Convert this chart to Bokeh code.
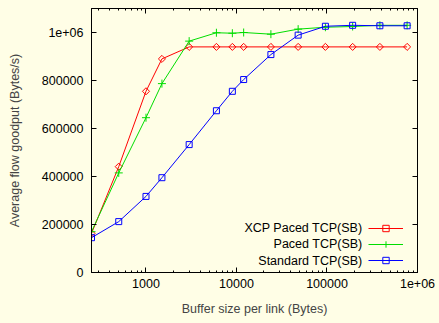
import numpy as np
from bokeh.plotting import figure
from bokeh.models import (FixedTicker, LinearAxis, LogAxis, Legend, LegendItem,
                          Label)
from bokeh.embed import file_html
from bokeh.resources import INLINE

# ---- data ----
buffer_sizes = [250, 500, 1000, 1500, 3000, 6000, 9000, 12000, 24000, 48000,
                96000, 192000, 384000, 768000]
xcp_paced = [163000, 441000, 755000, 890000, 940000, 940000, 940000, 940000,
             940000, 940000, 940000, 940000, 940000, 940000]
paced = [170000, 415000, 645000, 787000, 964000, 999000, 997000, 1000000,
         993000, 1014000, 1022000, 1025000, 1030000, 1030000]
standard = [145000, 212000, 317000, 395000, 533000, 674000, 755000, 804000,
            908000, 989000, 1026000, 1030000, 1028000, 1028000]
series_names = ["XCP Paced TCP(SB)", "Paced TCP(SB)", "Standard TCP(SB)"]

x_ticks = [1000, 10000, 100000, 1000000]
x_tick_labels = ["1000", "10000", "100000", "1e+06"]
y_ticks = [0, 200000, 400000, 600000, 800000, 1000000]
y_tick_labels = ["0", "200000", "400000", "600000", "800000", "1e+06"]

BG = "#fffee6"
FONT = "Liberation Sans"
FS = "12.5px"

x_minor = [m * 10 ** e for e in range(2, 6) for m in range(2, 10)]

p = figure(x_axis_type="log", x_range=(250, 1e6), y_range=(0, 1.1e6),
           width=439, height=323, output_backend="svg", toolbar_location=None,
           min_border_left=91, min_border_right=22, min_border_top=8,
           min_border_bottom=51, background_fill_color=BG, border_fill_color=BG)
p.grid.visible = False
p.outline_line_color = "black"
p.outline_line_width = 1


def style_axis(ax, labels=True):
    ax.axis_line_color = "black"
    ax.major_tick_in = 5
    ax.major_tick_out = 0
    ax.minor_tick_in = 2
    ax.minor_tick_out = 0
    ax.major_tick_line_color = "black"
    ax.minor_tick_line_color = "black"
    ax.major_label_text_font = FONT
    ax.major_label_text_font_size = FS
    ax.major_label_text_color = "black"
    ax.axis_label_text_font = FONT
    ax.axis_label_text_font_size = FS
    ax.axis_label_text_font_style = "normal"
    if not labels:
        ax.major_label_text_font_size = "1px"
        ax.major_label_text_color = None
        ax.major_label_standoff = 0


xt = FixedTicker(ticks=x_ticks, minor_ticks=x_minor)
yt = FixedTicker(ticks=y_ticks, minor_ticks=[])

xa = p.xaxis[0]
xa.ticker = xt
xa.major_label_overrides = dict(zip(x_ticks, x_tick_labels))
xa.axis_label = "Buffer size per link (Bytes)"
style_axis(xa)
xa.major_label_standoff = 6
xa.axis_label_standoff = 11

ya = p.yaxis[0]
ya.ticker = yt
ya.major_label_overrides = dict(zip(y_ticks, y_tick_labels))
ya.axis_label = "Average flow goodput (Bytes/s)"
style_axis(ya)
ya.major_label_standoff = 8
ya.axis_label_standoff = 17

top = LogAxis(ticker=xt)
style_axis(top, labels=False)
p.add_layout(top, "above")
right = LinearAxis(ticker=yt)
style_axis(right, labels=False)
p.add_layout(right, "right")

# ---- series ----
colors = ["#ff0000", "#00dd00", "#0000ff"]

l1 = p.line(buffer_sizes, xcp_paced, line_color=colors[0], line_width=1)
m1 = p.scatter(buffer_sizes, xcp_paced, marker="square", angle=np.pi / 4, size=5,
               line_color=colors[0], fill_color=None, line_width=1)
l2 = p.line(buffer_sizes, paced, line_color=colors[1], line_width=1)
m2 = p.scatter(buffer_sizes, paced, marker="cross", size=8,
               line_color=colors[1], line_width=1)
l3 = p.line(buffer_sizes, standard, line_color=colors[2], line_width=1)
m3 = p.scatter(buffer_sizes, standard, marker="square", size=6,
               line_color=colors[2], fill_color=None, line_width=1)

# ---- legend: glyph samples via Legend, texts via Labels (text on the left) ----
legend = Legend(items=[LegendItem(label=" ", renderers=[l1, m1]),
                       LegendItem(label=" ", renderers=[l2, m2]),
                       LegendItem(label=" ", renderers=[l3, m3])],
                location=(277, 4), padding=0, margin=0, spacing=0,
                glyph_width=35, glyph_height=16, label_height=16,
                label_standoff=0, label_width=2,
                label_text_font_size="8px",
                border_line_color=None, background_fill_alpha=0)
p.add_layout(legend, "center")

for name, yy in zip(series_names, [45, 29, 12]):
    p.add_layout(Label(x=271, y=yy, x_units="screen", y_units="screen",
                       text=name, text_align="right", text_baseline="middle",
                       text_font=FONT, text_font_size=FS, text_color="black"))

html = file_html(p, INLINE)
html = html.replace("</head>", "<style>body{background:%s;}</style></head>" % BG, 1)
open("out.html", "w").write(html)
